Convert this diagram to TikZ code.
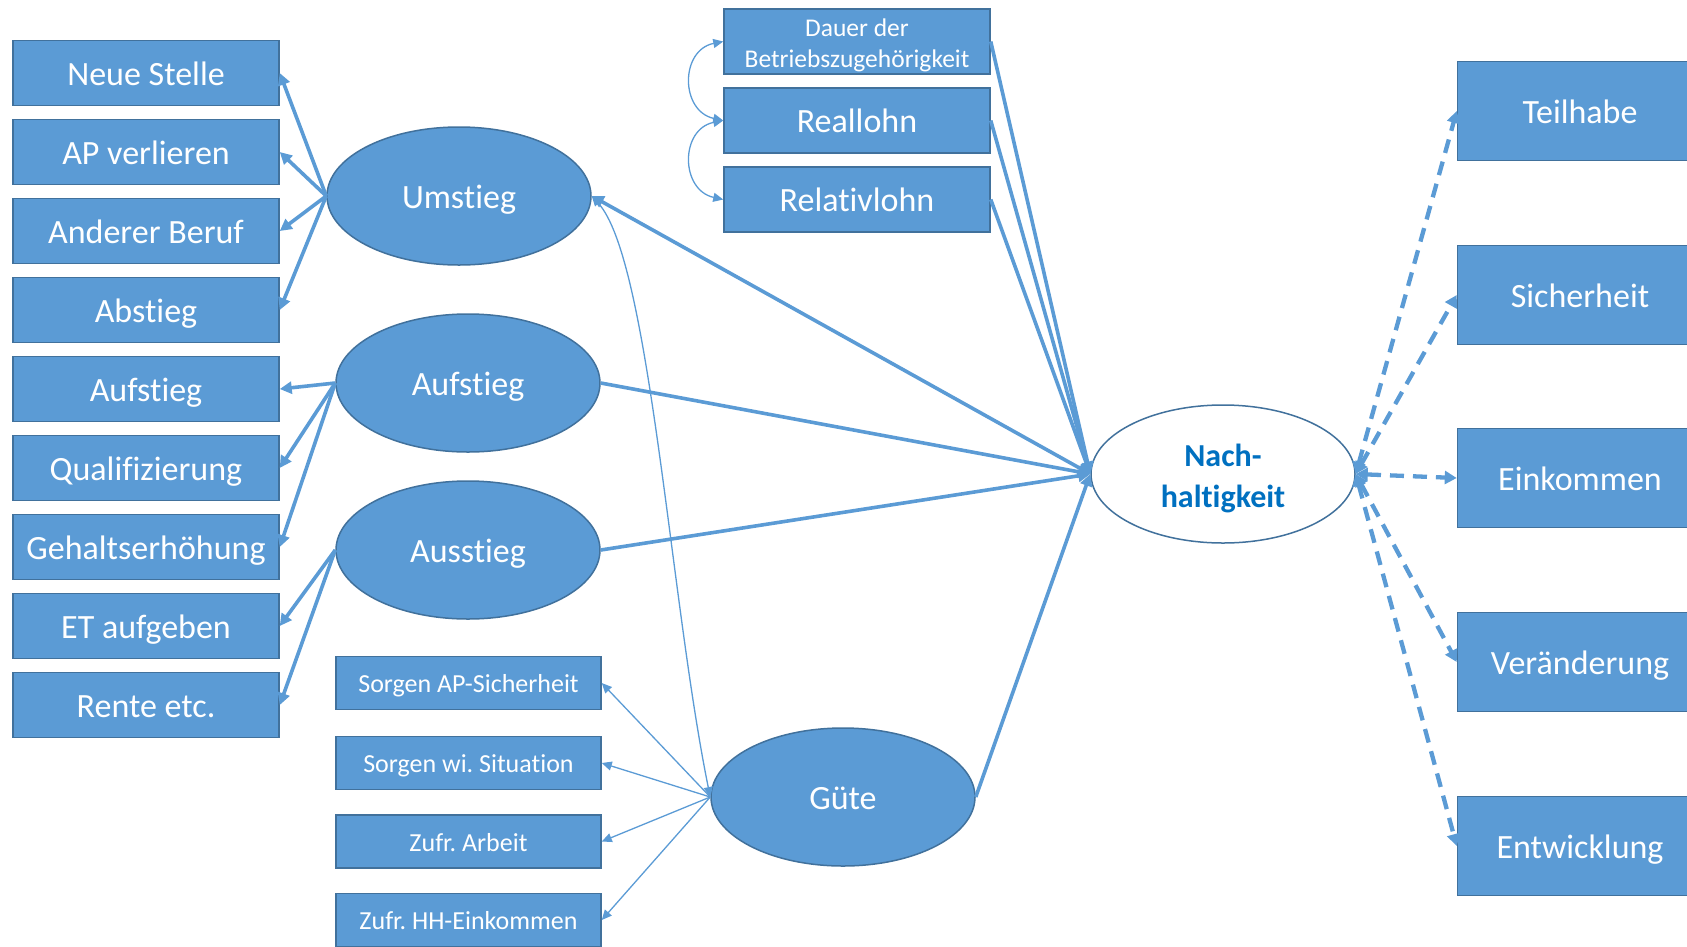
\documentclass[tikz,border=0pt]{standalone}
\usepackage{fontspec}
\setmainfont{Carlito}[Ligatures=NoCommon]
\usetikzlibrary{arrows.meta,shapes.geometric}
\definecolor{boxfill}{HTML}{5B9BD5}
\definecolor{boxline}{HTML}{41719C}
\definecolor{nachtext}{HTML}{0070C0}
\begin{document}
\frenchspacing
\begin{tikzpicture}[x=1pt,y=-1pt,
  bbox/.style={draw=boxline, line width=1.5pt, fill=boxfill, text=white, inner sep=0pt, align=center},
  bigline/.style={text height=28.6pt, text depth=4pt},
  smallline/.style={text height=22.2pt, text depth=2.8pt},
  bigbox/.style={bbox, bigline, minimum width=266pt, minimum height=65pt, font=\fontsize{34}{40}\selectfont},
  smallbox/.style={bbox, smallline, minimum width=265pt, minimum height=53pt, font=\fontsize{26}{31}\selectfont},
  rbox/.style={bbox, bigline, minimum width=245pt, minimum height=99pt, font=\fontsize{34}{40}\selectfont},
  latent/.style={ellipse, bigline, draw=boxline, line width=1.5pt, fill=boxfill, text=white, minimum width=264pt, minimum height=138pt, inner sep=0pt, font=\fontsize{34}{40}\selectfont},
  labeltext/.style={inner sep=0pt, align=center},
  thickarr/.style={draw=boxfill, line width=3.6pt, -{Triangle[length=12pt,width=12pt]}},
  thickboth/.style={draw=boxfill, line width=3.6pt, {Triangle[length=12pt,width=12pt]}-{Triangle[length=12pt,width=12pt]}},
  thinarr/.style={draw=boxfill, line width=1.3pt, -{Triangle[length=10pt,width=9pt]}},
  thinboth/.style={draw=boxfill, line width=1.3pt, {Triangle[length=10pt,width=9pt]}-{Triangle[length=10pt,width=9pt]}},
  dasharr/.style={draw=boxfill, line width=4.3pt, dash pattern=on 14pt off 9pt, {Triangle[length=12pt,width=13pt]}-{Triangle[length=12pt,width=13pt]}}]
\useasboundingbox (0,0) rectangle (1687,946);
\clip (0,0) rectangle (1687,946);

% left boxes
\node[bigbox] (neu) at (146,73) {Neue Stelle};
\node[bigbox] (apv) at (146,152) {AP verlieren};
\node[bigbox] (and) at (146,231) {Anderer Beruf};
\node[bigbox] (abs) at (146,310) {Abstieg};
\node[bigbox] (auf) at (146,389) {Aufstieg};
\node[bigbox] (qua) at (146,468) {Qualifizierung};
\node[bigbox] (geh) at (146,547) {Gehaltserhöhung};
\node[bigbox] (eta) at (146,626) {ET aufgeben};
\node[bigbox] (ren) at (146,705) {Rente etc.};

% latent ellipses
\node[latent] (um) at (459,196) {Umstieg};
\node[latent] (af) at (468,383) {Aufstieg};
\node[latent] (as) at (468,550) {Ausstieg};
\node[latent] (gu) at (843,797) {Güte};
\node[ellipse, draw=boxline, line width=1.5pt, fill=white, minimum width=264pt, minimum height=138pt, inner sep=0pt] (na) at (1223,474) {};
\node[labeltext, text=nachtext, font=\fontsize{32}{41}\selectfont\bfseries] (natext) at (1223,478) {Nach-\\haltigkeit};

% top boxes
\node[bbox, minimum width=266pt, minimum height=65pt] (dau) at (857,41.5) {};
\node[labeltext, text=white, font=\fontsize{25.5}{31}\selectfont] (dautext) at (857,45) {Dauer der\\Betriebszugehörigkeit};
\node[bigbox] (rea) at (857,120.5) {Reallohn};
\node[bigbox] (rel) at (857,199.5) {Relativlohn};

% small boxes
\node[smallbox] (sap) at (468.5,683) {Sorgen AP-Sicherheit};
\node[smallbox] (swi) at (468.5,763) {Sorgen wi. Situation};
\node[smallbox] (zar) at (468.5,841.5) {Zufr. Arbeit};
\node[smallbox] (zhh) at (468.5,920) {Zufr. HH-Einkommen};

% right boxes
\node[rbox] (tei) at (1580,111) {Teilhabe};
\node[rbox] (sic) at (1580,295) {Sicherheit};
\node[rbox] (ein) at (1580,478) {Einkommen};
\node[rbox] (ver) at (1580,662) {Veränderung};
\node[rbox] (ent) at (1580,846) {Entwicklung};

% left connectors
\draw[thickarr] (um.west) -- (neu.east);
\draw[thickarr] (um.west) -- (apv.east);
\draw[thickarr] (um.west) -- (and.east);
\draw[thickarr] (um.west) -- (abs.east);
\draw[thickarr] (af.west) -- (auf.east);
\draw[thickarr] (af.west) -- (qua.east);
\draw[thickarr] (af.west) -- (geh.east);
\draw[thickarr] (as.west) -- (eta.east);
\draw[thickarr] (as.west) -- (ren.east);

% into Nachhaltigkeit
\draw[thickarr] (dau.east) -- (na.west);
\draw[thickarr] (rea.east) -- (na.west);
\draw[thickarr] (rel.east) -- (na.west);
\draw[thickboth] (um.east) -- (na.west);
\draw[thickarr] (af.east) -- (na.west);
\draw[thickarr] (as.east) -- (na.west);
\draw[thickarr] (gu.east) -- (na.west);

% Guete indicators
\draw[thinarr] (gu.west) -- (sap.east);
\draw[thinarr] (gu.west) -- (swi.east);
\draw[thinarr] (gu.west) -- (zar.east);
\draw[thinarr] (gu.west) -- (zhh.east);

% correlations
\draw[thinboth] (um.east) .. controls (650,260) and (670,600) .. (gu.west);
\draw[thinboth] (dau.west) .. controls (680,50) and (680,111) .. (rea.west);
\draw[thinboth] (rea.west) .. controls (680,129) and (680,190) .. (rel.west);

% outcomes
\draw[dasharr] (na.east) -- (tei.west);
\draw[dasharr] (na.east) -- (sic.west);
\draw[dasharr] (na.east) -- (ein.west);
\draw[dasharr] (na.east) -- (ver.west);
\draw[dasharr] (na.east) -- (ent.west);
\end{tikzpicture}
\end{document}
